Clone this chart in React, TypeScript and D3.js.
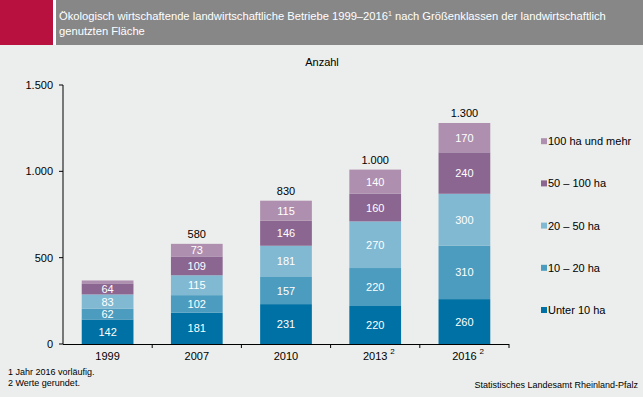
import React from 'react';
import * as d3 from 'd3';

const years = ['1999', '2007', '2010', '2013', '2016'];
const yearNotes = ['', '', '', '2', '2'];

const seriesNames = ['Unter 10 ha', '10 – 20 ha', '20 – 50 ha', '50 – 100 ha', '100 ha und mehr'];
const unter10 = [142, 181, 231, 220, 260];
const ha10to20 = [62, 102, 157, 220, 310];
const ha20to50 = [83, 115, 181, 270, 300];
const ha50to100 = [64, 109, 146, 160, 240];
const ha100plus = [17, 73, 115, 140, 170];
const totals = [null, 580, 830, 1000, 1300];
const yTicks = [0, 500, 1000, 1500];

const COLORS = ['#0071a4', '#4b9cbf', '#81b9d3', '#8b6691', '#ae8faf'];
const FONT = '"Liberation Sans", Arial, sans-serif';

const W = 643;
const H = 397;
const margin = { top: 85, left: 63, right: 134, bottom: 53 };

const de = d3.formatLocale({ decimal: ',', thousands: '.', grouping: [3], currency: ['', ' €'] });
const fmt = de.format(',d');

export default function App() {
  const rows = years.map((y, i) => ({
    year: y,
    s0: unter10[i],
    s1: ha10to20[i],
    s2: ha20to50[i],
    s3: ha50to100[i],
    s4: ha100plus[i],
  }));
  const keys = ['s0', 's1', 's2', 's3', 's4'];
  const stack = d3.stack<any>().keys(keys)(rows);

  const x = d3.scaleBand<string>()
    .domain(years)
    .range([margin.left, W - margin.right])
    .paddingInner(0.42)
    .paddingOuter(0.21);
  const y = d3.scaleLinear().domain([0, 1500]).range([H - margin.bottom, margin.top]);

  const y0 = y(0);
  const bandStep = x.step();
  const xEnd = margin.left + bandStep * years.length;

  return (
    <svg width={W} height={H} style={{ position: 'absolute', left: 0, top: 0, display: 'block' }} fontFamily={FONT}>
      <rect x={0} y={0} width={W} height={H} fill="#eceeed" />
      {/* header */}
      <rect x={0} y={0} width={53} height={45} fill="#b8103f" />
      <rect x={53} y={0} width={3} height={45} fill="#ffffff" />
      <rect x={56} y={0} width={W - 56} height={45} fill="#878787" />
      <text x={59} y={20} fill="#fff" fontSize={11.2}>
        Ökologisch wirtschaftende landwirtschaftliche Betriebe 1999–2016
        <tspan fontSize={7} dy={-4}>1</tspan>
        <tspan dy={4}> nach Größenklassen der landwirtschaftlich</tspan>
      </text>
      <text x={59} y={35} fill="#fff" fontSize={11.2}>genutzten Fläche</text>

      <text x={322} y={66} fontSize={11} textAnchor="middle" fill="#000">Anzahl</text>

      {/* bars */}
      {stack.map((layer, li) => (
        <g key={li} fill={COLORS[li]}>
          {layer.map((d, i) => (
            <rect key={i} x={x(years[i])} y={y(d[1])} width={x.bandwidth()} height={y(d[0]) - y(d[1])} />
          ))}
        </g>
      ))}
      {stack.map((layer, li) => (
        <g key={'l' + li} fill="#fff" fontSize={11} textAnchor="middle">
          {layer.map((d, i) => {
            const h = y(d[0]) - y(d[1]);
            if (h < 8) return null;
            return (
              <text key={i} x={(x(years[i]) as number) + x.bandwidth() / 2} y={(y(d[0]) + y(d[1])) / 2 + 4}>
                {d[1] - d[0]}
              </text>
            );
          })}
        </g>
      ))}
      {/* totals */}
      {totals.map((t, i) => {
        if (t == null) return null;
        const top = y(stack[stack.length - 1][i][1]);
        return (
          <text key={i} x={(x(years[i]) as number) + x.bandwidth() / 2} y={top - 6} fontSize={11} textAnchor="middle" fill="#000">
            {fmt(t)}
          </text>
        );
      })}

      {/* y axis */}
      <line x1={margin.left} x2={margin.left} y1={y(1500)} y2={y0} stroke="#000" />
      {yTicks.map(t => (
        <g key={t}>
          <line x1={margin.left - 4} x2={margin.left} y1={y(t)} y2={y(t)} stroke="#000" />
          <text x={53} y={y(t) + 4} fontSize={11} textAnchor="end" fill="#000">{fmt(t)}</text>
        </g>
      ))}

      {/* x axis */}
      <line x1={margin.left} x2={xEnd} y1={y0 + 0.5} y2={y0 + 0.5} stroke="#000" />
      {years.map((yr, i) => {
        const bx = margin.left + bandStep * (i + 1);
        const cx = (x(yr) as number) + x.bandwidth() / 2;
        return (
          <g key={yr}>
            <line x1={bx} x2={bx} y1={y0} y2={y0 + 4} stroke="#000" />
            <text x={cx} y={y0 + 16} fontSize={11} textAnchor="middle" fill="#000">{yr}</text>
            {yearNotes[i] && (
              <text x={cx + 15} y={y0 + 10} fontSize={8} fill="#000">{yearNotes[i]}</text>
            )}
          </g>
        );
      })}

      {/* legend */}
      {seriesNames.map((n, i) => {
        const ly = 312 - i * 42.2;
        return (
          <g key={n}>
            <rect x={541} y={ly - 5} width={6} height={6} fill={COLORS[i]} />
            <text x={548} y={ly + 2} fontSize={11} fill="#000">{n}</text>
          </g>
        );
      })}

      {/* footnotes */}
      <text x={8} y={375} fontSize={9} fill="#000">1 Jahr 2016 vorläufig.</text>
      <text x={8} y={386} fontSize={9} fill="#000">2 Werte gerundet.</text>
      <text x={638} y={388} fontSize={9} textAnchor="end" fill="#000">Statistisches Landesamt Rheinland-Pfalz</text>
    </svg>
  );
}
